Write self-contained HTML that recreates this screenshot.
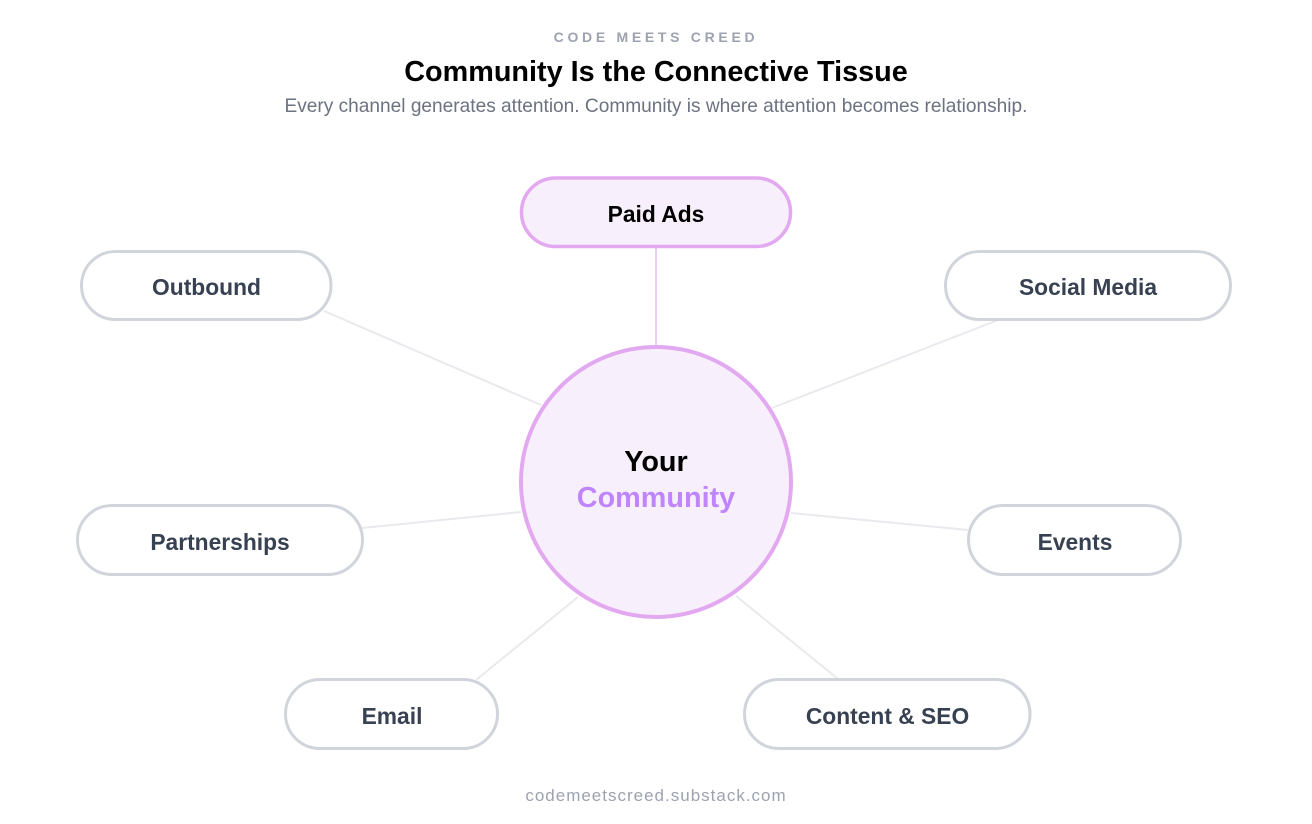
<!DOCTYPE html>
<html>
<head>
<meta charset="utf-8">
<style>
html,body{margin:0;padding:0;background:#fff;}
body{width:1312px;height:824px;overflow:hidden;}
svg{display:block;font-family:"Liberation Sans",Arial,sans-serif;}
.n{fill:#fff;stroke:#d1d5db;stroke-width:3;}
.l{stroke:#e9e9ee;stroke-width:2;fill:none;}
.t{font-size:22.8px;font-weight:700;fill:#374151;text-anchor:middle;}
</style>
</head>
<body>
<svg width="1312" height="824" viewBox="0 0 1312 824" xmlns="http://www.w3.org/2000/svg">
<rect width="1312" height="824" fill="#fff"/>
<text x="656" y="42" font-size="14" font-weight="700" letter-spacing="3.7" fill="#9ca3af" text-anchor="middle">CODE MEETS CREED</text>
<text x="656" y="81" font-size="28.8" font-weight="700" fill="#000" text-anchor="middle">Community Is the Connective Tissue</text>
<text x="656" y="112" font-size="19.1" fill="#6b7280" text-anchor="middle">Every channel generates attention. Community is where attention becomes relationship.</text>

<line class="l" x1="324" y1="311" x2="541" y2="405"/>
<line class="l" x1="998" y1="320" x2="772" y2="408"/>
<line class="l" x1="362" y1="528" x2="521" y2="512"/>
<line class="l" x1="791" y1="513" x2="968" y2="530"/>
<line class="l" x1="476" y1="680" x2="578" y2="597"/>
<line class="l" x1="736" y1="596" x2="838" y2="679"/>
<line x1="656" y1="247" x2="656" y2="347" stroke="#eccdf8" stroke-width="2"/>

<rect x="521.500" y="178" width="269" height="68.500" rx="34.250" fill="#f7f0fc" stroke="#e3a9f0" stroke-width="3.500"/>
<text x="656" y="222" font-size="22.800" font-weight="700" fill="#000" text-anchor="middle">Paid Ads</text>

<rect class="n" x="81.500" y="251.500" width="249.500" height="68" rx="34"/>
<text class="t" x="206.500" y="295">Outbound</text>

<rect class="n" x="945.500" y="251.500" width="285" height="68" rx="34"/>
<text class="t" x="1088" y="295">Social Media</text>

<rect class="n" x="77.500" y="505.500" width="285" height="69" rx="34.500"/>
<text class="t" x="220" y="550">Partnerships</text>

<rect class="n" x="968.500" y="505.500" width="212" height="69" rx="34.500"/>
<text class="t" x="1075" y="550">Events</text>

<rect class="n" x="285.500" y="679.500" width="212" height="69" rx="34.500"/>
<text class="t" x="392" y="724">Email</text>

<rect class="n" x="744.500" y="679.500" width="285.500" height="69" rx="34.500"/>
<text class="t" x="887.500" y="724">Content &amp; SEO</text>

<circle cx="656" cy="482" r="135" fill="#f7f0fc" stroke="#e3a9f0" stroke-width="4"/>
<text x="656" y="471" font-size="28.800" font-weight="700" fill="#000" text-anchor="middle">Your</text>
<text x="656" y="507" font-size="28.800" font-weight="700" fill="#c084fc" text-anchor="middle">Community</text>

<text x="656" y="801" font-size="17" letter-spacing="1" fill="#9ca3af" text-anchor="middle">codemeetscreed.substack.com</text>
</svg>
</body>
</html>
